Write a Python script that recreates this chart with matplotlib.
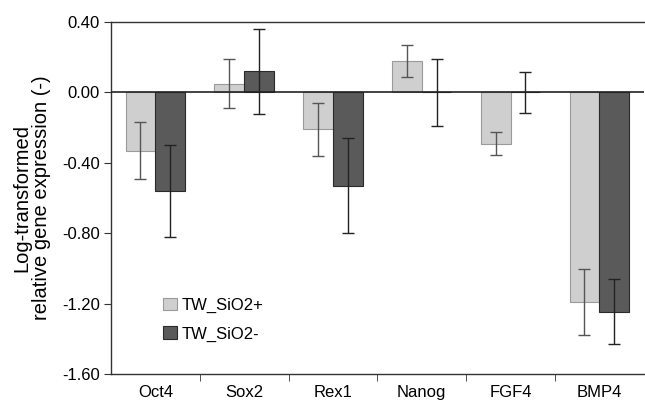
import matplotlib
matplotlib.use("Agg")
import matplotlib.pyplot as plt
import numpy as np

categories = ["Oct4", "Sox2", "Rex1", "Nanog", "FGF4", "BMP4"]
plus_vals = [-0.33, 0.05, -0.21, 0.18, -0.29, -1.19]
plus_err = [0.16, 0.14, 0.15, 0.09, 0.065, 0.19]
minus_vals = [-0.56, 0.12, -0.53, 0.00, 0.00, -1.245]
minus_err = [0.26, 0.24, 0.27, 0.19, 0.115, 0.185]
yticks = [0.40, 0.00, -0.40, -0.80, -1.20, -1.60]

plt.rcParams['font.family'] = ['Liberation Sans', 'DejaVu Sans']

fig = plt.figure(figsize=(6.45, 4.08), dpi=100)
ax = fig.add_axes([0.172, 0.083, 0.826, 0.863])

x = np.arange(len(categories))
w = 0.335
ax.bar(x - w/2, plus_vals, w, color="#cfcfcf", edgecolor="#9a9a9a", linewidth=0.8,
       label="TW_SiO2+", zorder=2)
ax.bar(x + w/2, minus_vals, w, color="#5a5a5a", edgecolor="#2a2a2a", linewidth=0.8,
       label="TW_SiO2-", zorder=2)
ax.errorbar(x - w/2, plus_vals, yerr=plus_err, fmt='none', ecolor="#555555",
            elinewidth=1.0, capsize=4, capthick=1.0, zorder=3)
ax.errorbar(x + w/2, minus_vals, yerr=minus_err, fmt='none', ecolor="#222222",
            elinewidth=1.0, capsize=4, capthick=1.0, zorder=3)

ax.axhline(0, color="#222222", linewidth=1.2, zorder=4)

ax.set_xlim(-0.5, len(categories) - 0.5)
ax.set_ylim(-1.60, 0.40)
ax.set_yticks(yticks)
ax.set_yticklabels([f"{v:.2f}" for v in yticks], fontsize=12)
ax.set_xticks(x)
ax.set_xticklabels(categories, fontsize=12)
ax.tick_params(axis='x', length=0, pad=8)
ax.set_xticks(np.arange(0.5, len(categories) - 0.5, 1.0), minor=True)
ax.tick_params(axis='x', which='minor', length=5, direction='out', color="#333333")
ax.tick_params(axis='y', length=5, direction='out', color="#333333", pad=3)

for s in ['left', 'bottom', 'top']:
    ax.spines[s].set_color("#333333")
    ax.spines[s].set_linewidth(1.0)
ax.spines['right'].set_visible(False)

ax.set_ylabel("Log-transformed\nrelative gene expression (-)", fontsize=14.5, labelpad=8,
              linespacing=1.0)

ax.legend(loc='lower left', bbox_to_anchor=(0.07, 0.05), frameon=False, fontsize=12,
          handlelength=0.8, handleheight=0.8, handletextpad=0.3, labelspacing=0.8)

fig.savefig("out.png", dpi=100)
